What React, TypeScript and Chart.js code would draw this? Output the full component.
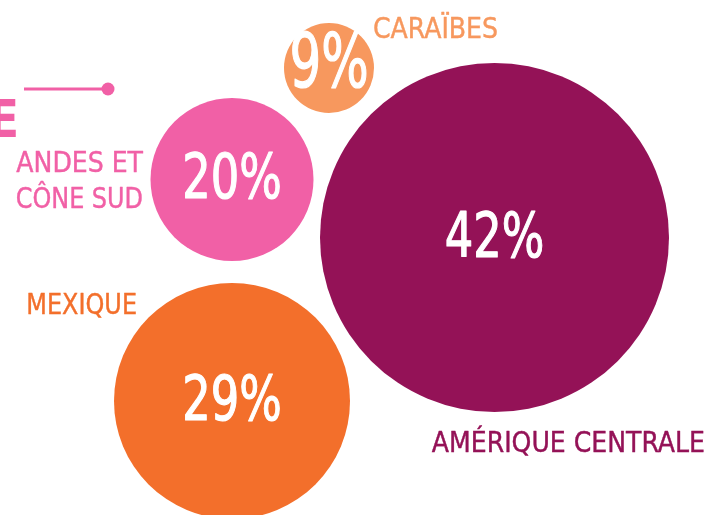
import { useEffect, useRef } from "react";
import { Chart, registerables } from "chart.js";

Chart.register(...registerables);

// ---- data ----
const categories = ["CARAÏBES", "ANDES ET CÔNE SUD", "AMÉRIQUE CENTRALE", "MEXIQUE"];
const categoryLines = [["CARAÏBES"], ["ANDES ET", "CÔNE SUD"], ["AMÉRIQUE CENTRALE"], ["MEXIQUE"]];
const shares = [9, 20, 42, 29];
const posX = [329, 232, 494.5, 232];
const posY = [68, 179.5, 237.5, 401];
const radii = [45, 81.5, 174.5, 118];
const colors = ["#F7985E", "#F160A6", "#941257", "#F36F2B"];

const FONT = "'Liberation Sans Narrow', 'DejaVu Sans Condensed', 'Roboto', sans-serif";

// label placement relative to bubble centre (style)
const labelStyle = [
  { dx: 44, dys: [-30], align: "left" as CanvasTextAlign, sx: [1] },
  { dx: -89, dys: [-7.5, 28.5], align: "right" as CanvasTextAlign, sx: [1, 0.95] },
  { dx: 210.5, dys: [214.5], align: "right" as CanvasTextAlign, sx: [1] },
  { dx: -95, dys: [-87], align: "right" as CanvasTextAlign, sx: [0.95] },
];
const pctStyle = [
  { size: 74, sx: 0.75, dy: 19 },
  { size: 63, sx: 0.79, dy: 18.5 },
  { size: 63, sx: 0.79, dy: 19.5 },
  { size: 63, sx: 0.79, dy: 19 },
];

function drawText(
  ctx: CanvasRenderingContext2D,
  text: string,
  x: number,
  y: number,
  sx: number,
  stroke: number
) {
  ctx.save();
  ctx.translate(x, y);
  ctx.scale(sx, 1);
  ctx.fillText(text, 0, 0);
  if (stroke > 0) {
    ctx.lineWidth = stroke;
    ctx.lineJoin = "round";
    ctx.strokeStyle = ctx.fillStyle as string;
    ctx.strokeText(text, 0, 0);
  }
  ctx.restore();
}

const labelsPlugin = {
  id: "bubbleLabels",
  afterDatasetsDraw(chart: any) {
    const ctx: CanvasRenderingContext2D = chart.ctx;
    const meta = chart.getDatasetMeta(0);
    ctx.save();
    // decorative title fragment
    ctx.fillStyle = "#F160A6";
    ctx.strokeStyle = "#F160A6";
    ctx.font = `bold 51px ${FONT}`;
    ctx.textAlign = "right";
    ctx.textBaseline = "alphabetic";
    ctx.fillText("E", 19, 137);
    ctx.lineWidth = 3;
    ctx.beginPath();
    ctx.moveTo(24, 89);
    ctx.lineTo(106, 89);
    ctx.stroke();
    ctx.beginPath();
    ctx.arc(108, 89, 6.5, 0, Math.PI * 2);
    ctx.fill();

    meta.data.forEach((el: any, i: number) => {
      const { x, y } = el.getProps(["x", "y"], true);
      const ps = pctStyle[i];
      ctx.fillStyle = "#ffffff";
      ctx.textAlign = "center";
      ctx.font = `500 ${ps.size}px ${FONT}`;
      drawText(ctx, `${shares[i]}%`, x, y + ps.dy, ps.sx, 1.2);

      const st = labelStyle[i];
      ctx.fillStyle = colors[i];
      ctx.textAlign = st.align;
      ctx.font = `28px ${FONT}`;
      categoryLines[i].forEach((line, k) => {
        drawText(ctx, line, x + st.dx, y + st.dys[k], st.sx[k], 0.4);
      });
    });
    ctx.restore();
  },
};

export default function App() {
  const ref = useRef<HTMLCanvasElement | null>(null);
  useEffect(() => {
    if (!ref.current) return;
    const chart = new Chart(ref.current, {
      type: "bubble",
      data: {
        labels: categories,
        datasets: [
          {
            data: shares.map((_, i) => ({ x: posX[i], y: posY[i], r: radii[i] })),
            backgroundColor: colors,
            borderWidth: 0,
            hoverRadius: 0,
            clip: false,
          },
        ],
      },
      options: {
        responsive: false,
        animation: false,
        devicePixelRatio: 1,
        layout: { padding: 0, autoPadding: false },
        plugins: { legend: { display: false }, tooltip: { enabled: false } },
        events: [],
        scales: {
          x: { type: "linear", min: 0, max: 709, display: false },
          y: { type: "linear", min: 0, max: 515, reverse: true, display: false },
        },
      },
      plugins: [labelsPlugin],
    });
    return () => chart.destroy();
  }, []);
  return (
    <div style={{ position: "fixed", left: 0, top: 0, width: 709, height: 515, background: "#fff" }}>
      <canvas ref={ref} width={709} height={515} style={{ display: "block" }} />
    </div>
  );
}
